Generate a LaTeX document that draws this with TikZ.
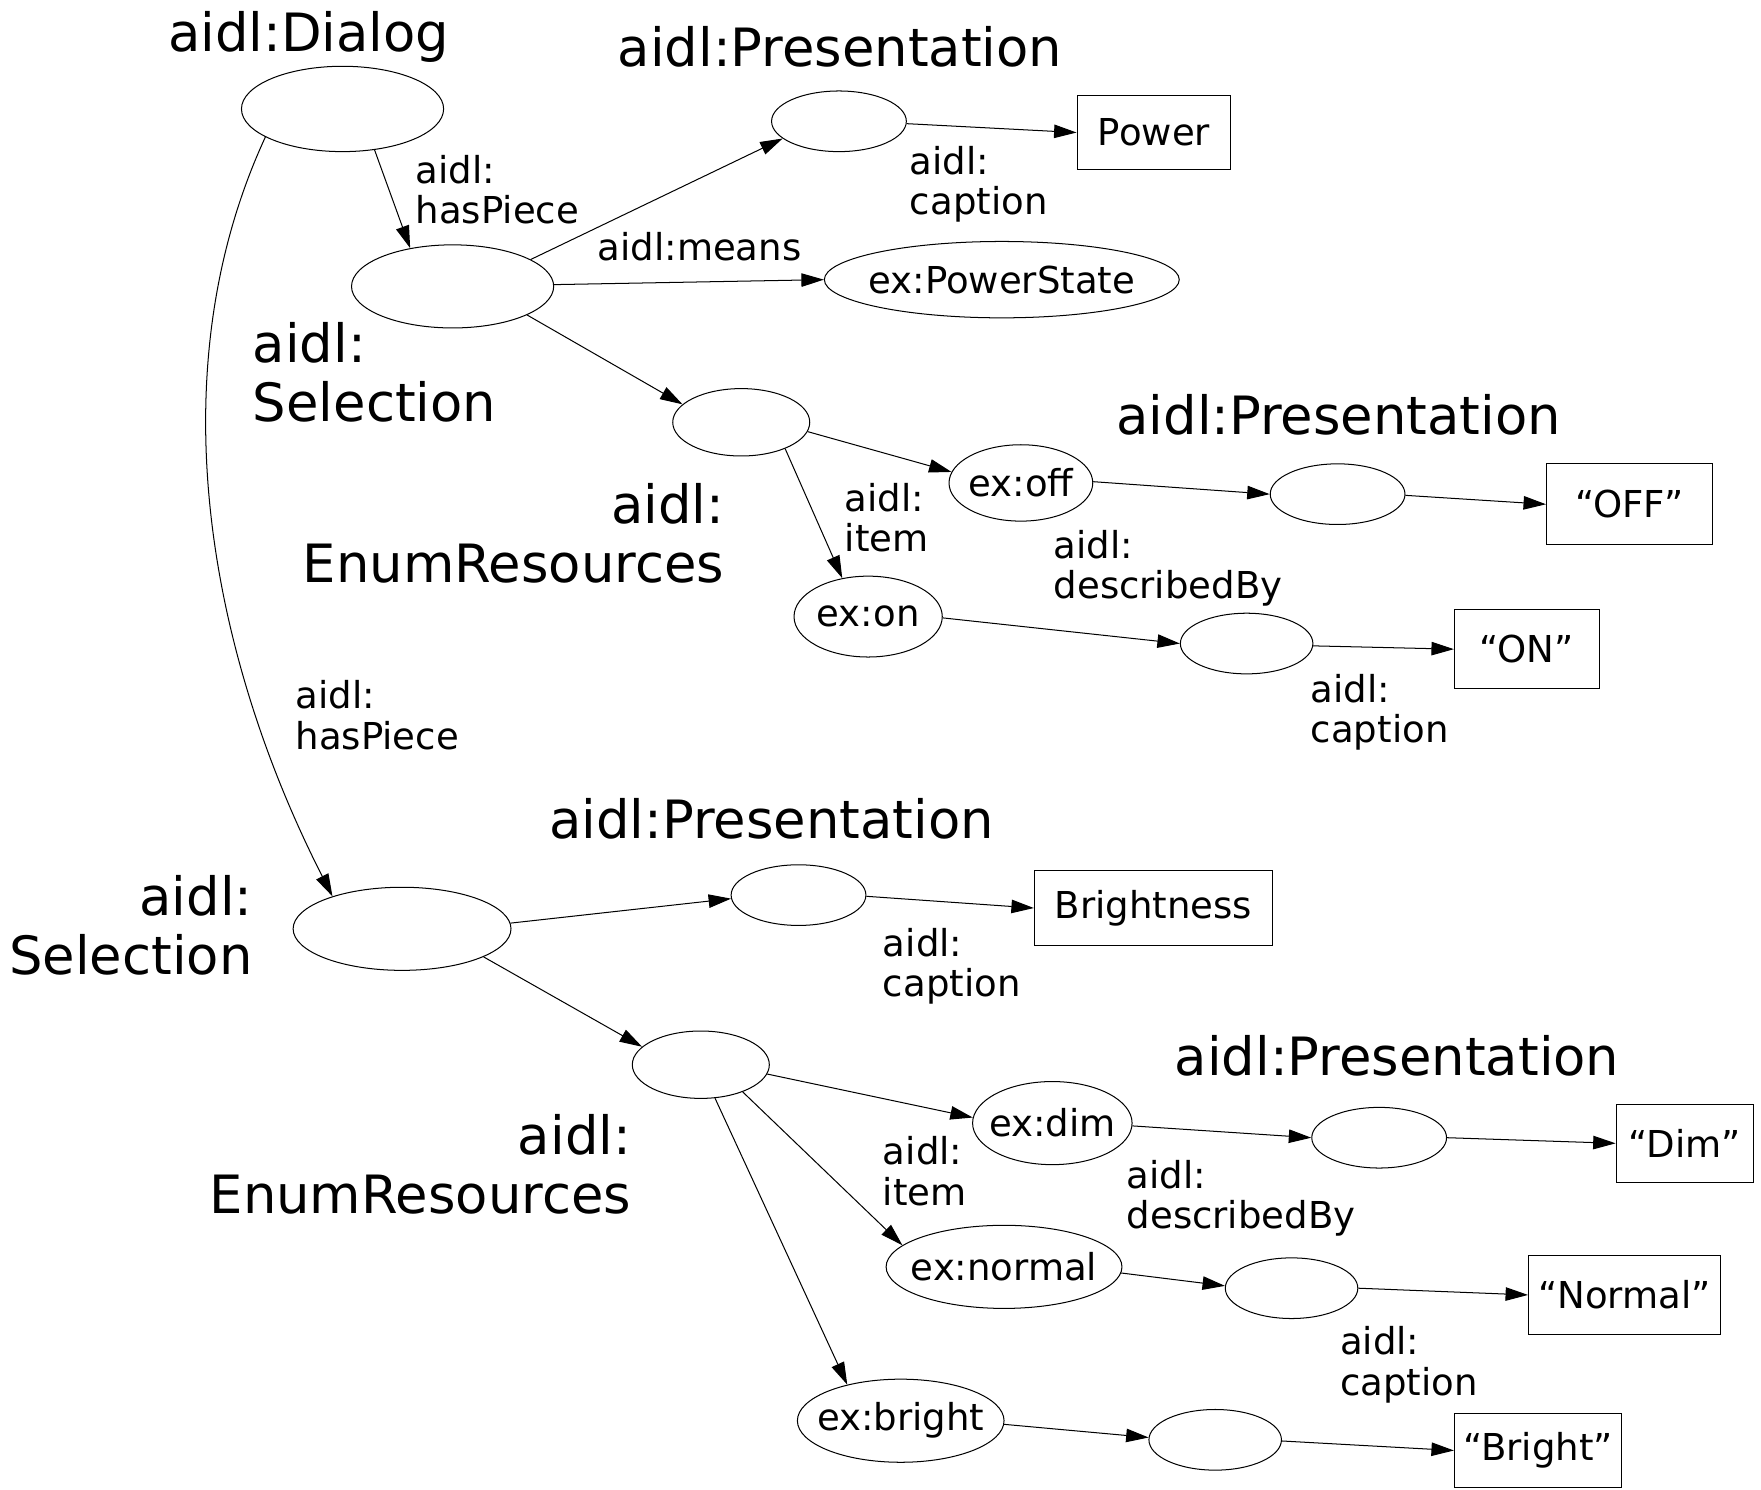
\documentclass[tikz,border=0pt]{standalone}
\usepackage{fontspec}
\setmainfont{DejaVu Sans}
\usetikzlibrary{shapes.geometric,arrows.meta}
\newcommand\zw[1]{\makebox[0pt]{#1}}
\begin{document}
\begin{tikzpicture}[x=1pt,y=-1pt,
  ell/.style={ellipse, draw, line width=0.9pt, inner sep=0pt, font=\fontsize{33}{36}\selectfont},
  boxn/.style={rectangle, draw, line width=0.9pt, inner sep=0pt, font=\fontsize{33}{36}\selectfont},
  lbl/.style={inner sep=0pt, align=left, anchor=north west, font=\fontsize{33}{36}\selectfont},
  bigl/.style={inner sep=0pt, font=\fontsize{47}{52.5}\selectfont},
  conn/.style={-{Triangle[length=20pt,width=12pt]}, line width=0.9pt}]
\useasboundingbox (0,0) rectangle (1568,1326);

% ellipses
\node[ell, minimum width=180pt, minimum height=76pt] (dlg) at (305,97) {};
\node[ell, minimum width=180pt, minimum height=74pt] (sel1) at (403,255) {};
\node[ell, minimum width=120pt, minimum height=54pt] (pres1) at (747,108) {};
\node[ell, minimum width=316pt, minimum height=68pt] (ps) at (892,249) {\zw{ex:PowerState}};
\node[ell, minimum width=122pt, minimum height=60pt] (enum1) at (660,376) {};
\node[ell, minimum width=128pt, minimum height=68pt] (off) at (909,430) {\zw{ex:off}};
\node[ell, minimum width=120pt, minimum height=54pt] (pres2) at (1191,440) {};
\node[ell, minimum width=132pt, minimum height=72pt] (on) at (773,549) {\zw{ex:on}};
\node[ell, minimum width=118pt, minimum height=54pt] (pres3) at (1110,573) {};
\node[ell, minimum width=194pt, minimum height=74pt] (sel2) at (358,827) {};
\node[ell, minimum width=120pt, minimum height=54pt] (pres4) at (711,797) {};
\node[ell, minimum width=122pt, minimum height=60pt] (enum2) at (624,948) {};
\node[ell, minimum width=142pt, minimum height=74pt] (dim) at (937,1000) {\zw{ex:dim}};
\node[ell, minimum width=120pt, minimum height=54pt] (pres5) at (1228,1013) {};
\node[ell, minimum width=210pt, minimum height=74pt] (normal) at (894,1128) {\zw{ex:normal}};
\node[ell, minimum width=118pt, minimum height=54pt] (pres6) at (1150,1147) {};
\node[ell, minimum width=184pt, minimum height=74pt] (bright) at (802,1265) {\zw{ex:bright}};
\node[ell, minimum width=118pt, minimum height=54pt] (pres7) at (1082,1282) {};

% boxes
\node[boxn, minimum width=137pt, minimum height=66pt] (power) at (1027.5,118) {Power};
\node[boxn, minimum width=148pt, minimum height=72pt] (offb) at (1451,449) {“OFF”};
\node[boxn, minimum width=129pt, minimum height=70pt] (onb) at (1359.5,578) {“ON”};
\node[boxn, minimum width=212pt, minimum height=67pt] (brb) at (1027,808.5) {Brightness};
\node[boxn, minimum width=122pt, minimum height=70pt] (dimb) at (1500,1018) {“Dim”};
\node[boxn, minimum width=171pt, minimum height=70pt] (normb) at (1446.5,1153) {“Normal”};
\node[boxn, minimum width=149pt, minimum height=66pt] (brightb) at (1369.5,1291.5) {“Bright”};

% big labels
\node[bigl, anchor=base] (tdlg) at (275,46) {aidl:Dialog};
\node[bigl, anchor=base] (tp1) at (748,59) {aidl:Presentation};
\node[bigl, anchor=base] (tp2) at (1192,387) {aidl:Presentation};
\node[bigl, anchor=base] (tp3) at (687,747) {aidl:Presentation};
\node[bigl, anchor=base] (tp4) at (1244,958) {aidl:Presentation};
\node[bigl, anchor=north west, align=left] (tsel1) at (225,287) {aidl:\\Selection};
\node[bigl, anchor=north east, align=right] (tenum1) at (645,430) {aidl:\\EnumResources};
\node[bigl, anchor=north east, align=right] (tsel2) at (225,779) {aidl:\\Selection};
\node[bigl, anchor=north east, align=right] (tenum2) at (562,992) {aidl:\\EnumResources};

% small labels
\node[lbl] (lhp1) at (370,138) {aidl:\\hasPiece};
\node[lbl] (lcap1) at (810,130) {aidl:\\caption};
\node[lbl, anchor=base west] (lmeans) at (532,232) {aidl:means};
\node[lbl] (litem1) at (752,430) {aidl:\\item};
\node[lbl] (ldesc1) at (938,472) {aidl:\\describedBy};
\node[lbl] (lcap2) at (1167,600) {aidl:\\caption};
\node[lbl] (lhp2) at (263,606) {aidl:\\hasPiece};
\node[lbl] (lcap3) at (786,826) {aidl:\\caption};
\node[lbl] (litem2) at (786,1012) {aidl:\\item};
\node[lbl] (ldesc2) at (1003,1033) {aidl:\\describedBy};
\node[lbl] (lcap4) at (1193,1181) {aidl:\\caption};

% connectors
\draw[conn] (dlg.-52) -- (sel1.138);
\draw[conn] (dlg.200) .. controls (140,330) and (185,580) .. (sel2.155);
\draw[conn] (sel1.19) -- (pres1.197);
\draw[conn] (sel1.1) -- (ps.180);
\draw[conn] (sel1.-21) -- (enum1.163);
\draw[conn] (pres1.-2) -- (power.west);
\draw[conn] (enum1.-8) -- (off.171);
\draw[conn] (enum1.-31) -- (on.124);
\draw[conn] (off.1) -- (pres2.180);
\draw[conn] (pres2.-1) -- (offb.west);
\draw[conn] (on.-1) -- (pres3.180);
\draw[conn] (pres3.-2) -- (onb.west);
\draw[conn] (sel2.3) -- (pres4.183);
\draw[conn] (sel2.-19) -- (enum2.163);
\draw[conn] (pres4.-1) -- (brb.west);
\draw[conn] (enum2.-8) -- (dim.176);
\draw[conn] (enum2.-33) -- (normal.168);
\draw[conn] (enum2.-67) -- (bright.146);
\draw[conn] (dim.-2) -- (pres5.180);
\draw[conn] (pres5.0) -- (dimb.west);
\draw[conn] (normal.-3) -- (pres6.178);
\draw[conn] (pres6.0) -- (normb.west);
\draw[conn] (bright.-2) -- (pres7.178);
\draw[conn] (pres7.-1) -- (brightb.west);
\end{tikzpicture}
\end{document}
